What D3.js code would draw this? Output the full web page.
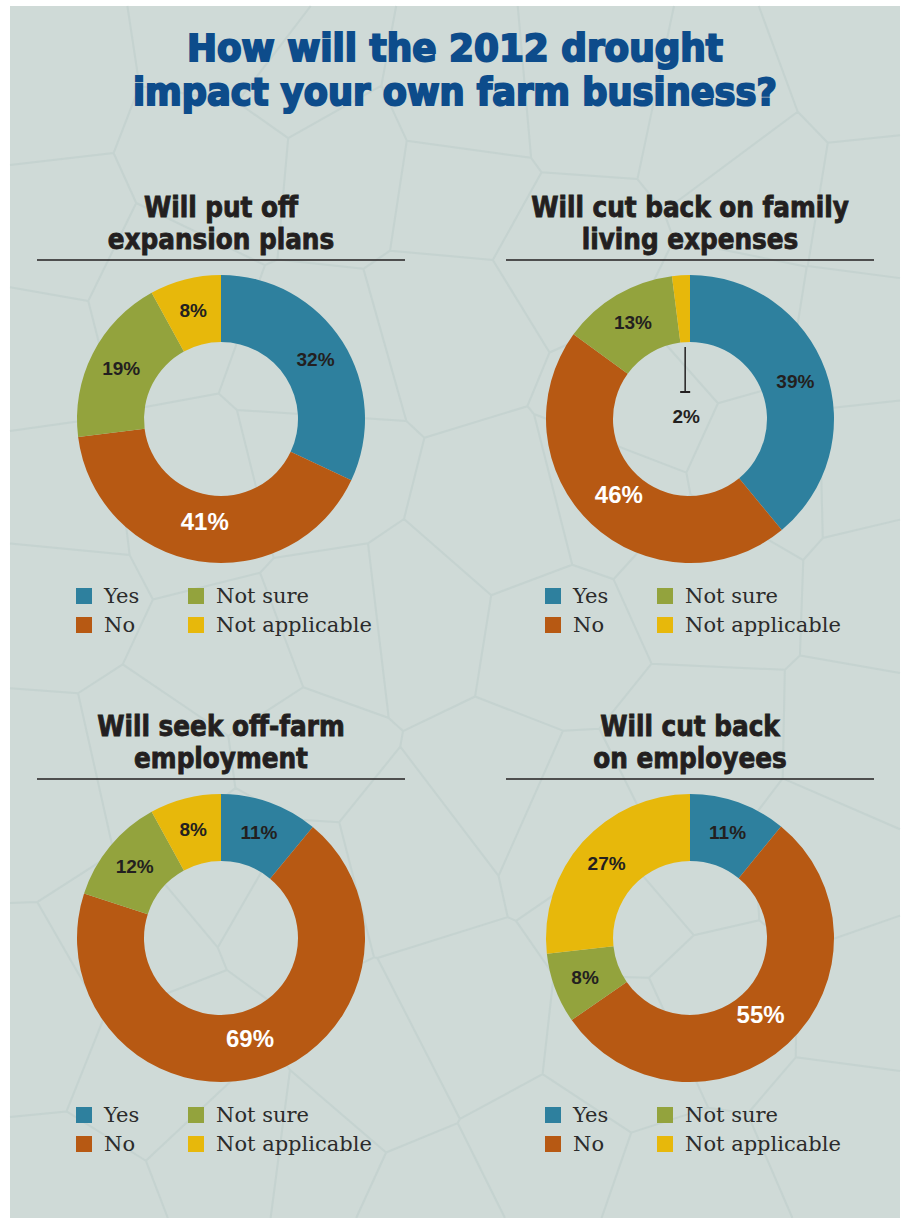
<!DOCTYPE html>
<html>
<head>
<meta charset="utf-8">
<script src="https://cdn.jsdelivr.net/npm/d3@7"></script>
<style>
  body { margin: 0; background: #fff; }
</style>
</head>
<body>
<div id="chart"></div>
<script>
/* DATA */
const categories = ["Yes", "No", "Not sure", "Not applicable"];
const titleLines = ["How will the 2012 drought", "impact your own farm business?"];
const panelTitles = [
  ["Will put off", "expansion plans"],
  ["Will cut back on family", "living expenses"],
  ["Will seek off-farm", "employment"],
  ["Will cut back", "on employees"]
];
const expansionValues = [32, 41, 19, 8];
const livingValues = [39, 46, 13, 2];
const offFarmValues = [11, 69, 12, 8];
const employeeValues = [11, 55, 8, 27];
const panelValues = [expansionValues, livingValues, offFarmValues, employeeValues];

/* CONSTANTS */
const W = 905, H = 1218;
const colors = ["#2e809e", "#b75913", "#93a33d", "#e7b80b"];
const bg = "#cfdad7";
const ink = "#231f20";
const rOuter = 144, rInner = 77, rLabel = 112, rLabelBig = 104;
const centersX = [221, 690];
const centersY = [419, 938];

const svg = d3.select("#chart").append("svg")
  .attr("width", W).attr("height", H);

svg.append("rect")
  .attr("x", 10).attr("y", 6)
  .attr("width", 890).attr("height", H - 6)
  .attr("fill", bg);

// faint cracked-earth texture (decoration only)
const hash = (a, b) => {
  const s = Math.sin(a * 12.9898 + b * 78.233) * 43758.5453;
  return s - Math.floor(s);
};
const seeds = [];
for (let i = 0; i < 7; i++) {
  for (let j = 0; j < 9; j++) {
    seeds.push([10 + (i + 0.1 + 0.8 * hash(i, j)) * 130, 6 + (j + 0.1 + 0.8 * hash(j + 3, i + 7)) * 138]);
  }
}
const vor = d3.Delaunay.from(seeds).voronoi([10, 6, 900, H]);
svg.append("path")
  .attr("d", vor.render())
  .attr("fill", "none")
  .attr("stroke", "#bccbc9")
  .attr("stroke-width", 2)
  .attr("stroke-linejoin", "round")
  .attr("opacity", 0.5);

// main title
svg.selectAll("text.title")
  .data(titleLines)
  .join("text")
  .attr("class", "title")
  .attr("x", 455)
  .attr("y", (d, i) => 61 + i * 44)
  .attr("text-anchor", "middle")
  .attr("font-family", "DejaVu Sans")
  .attr("font-weight", "bold")
  .attr("font-size", 37)
  .attr("fill", "#0d4c8b")
  .attr("stroke", "#0d4c8b")
  .attr("stroke-width", 2)
  .attr("textLength", (d, i) => i === 0 ? 536 : 644)
  .attr("lengthAdjust", "spacingAndGlyphs")
  .text(d => d);

const pie = d3.pie().sort(null).value(d => d);
const arc = d3.arc().innerRadius(rInner).outerRadius(rOuter);
const labelArc = d3.arc().innerRadius(rLabel).outerRadius(rLabel);
const labelArcBig = d3.arc().innerRadius(rLabelBig).outerRadius(rLabelBig);

panelValues.forEach((vals, p) => {
  const cx = centersX[p % 2], cy = centersY[Math.floor(p / 2)];
  const g = svg.append("g").attr("transform", `translate(${cx},${cy})`);

  // panel title
  g.selectAll("text.ptitle")
    .data(panelTitles[p])
    .join("text")
    .attr("class", "ptitle")
    .attr("x", 0)
    .attr("y", (d, i) => -212 + i * 32)
    .attr("dy", "0.36em")
    .attr("text-anchor", "middle")
    .attr("font-family", "DejaVu Sans Condensed, DejaVu Sans")
    .attr("font-weight", "bold")
    .attr("font-size", 27.5)
    .attr("fill", ink)
    .attr("stroke", ink)
    .attr("stroke-width", 0.8)
    .text(d => d);

  g.append("line")
    .attr("x1", -184).attr("x2", 184)
    .attr("y1", -159).attr("y2", -159)
    .attr("stroke", ink)
    .attr("stroke-width", 1.5);

  const arcs = pie(vals);

  g.selectAll("path")
    .data(arcs)
    .join("path")
    .attr("d", arc)
    .attr("fill", (d, i) => colors[i]);

  // labels
  arcs.forEach((d, i) => {
    const pct = d.data + "%";
    const big = i === 1;
    if (d.data < 5) {
      // tiny slice: label in the hole with a leader line
      const mid = (d.startAngle + d.endAngle) / 2;
      const lx = Math.sin(mid) * rInner;
      g.append("line")
        .attr("x1", lx).attr("x2", lx)
        .attr("y1", -rInner + 5).attr("y2", -27)
        .attr("stroke", ink).attr("stroke-width", 1.5);
      g.append("line")
        .attr("x1", lx - 5).attr("x2", lx + 5)
        .attr("y1", -27).attr("y2", -27)
        .attr("stroke", ink).attr("stroke-width", 2);
      g.append("text")
        .attr("x", lx + 1).attr("y", -3)
        .attr("dy", "0.36em")
        .attr("text-anchor", "middle")
        .attr("font-family", "Liberation Sans, Arial")
        .attr("font-weight", "bold")
        .attr("font-size", 19)
        .attr("fill", ink)
        .text(pct);
      return;
    }
    const [x, y] = (big ? labelArcBig : labelArc).centroid(d);
    g.append("text")
      .attr("x", x).attr("y", y)
      .attr("dy", "0.36em")
      .attr("text-anchor", "middle")
      .attr("font-family", "Liberation Sans, Arial")
      .attr("font-weight", "bold")
      .attr("font-size", big ? 24 : 19)
      .attr("fill", big ? "#ffffff" : ink)
      .text(pct);
  });

  // legend
  const leg = g.append("g").attr("transform", "translate(-145,177)");
  const item = leg.selectAll("g")
    .data(categories)
    .join("g")
    .attr("transform", (d, i) => `translate(${i < 2 ? 0 : 112},${(i % 2) * 29})`);
  item.append("rect")
    .attr("x", 0).attr("y", -8)
    .attr("width", 16).attr("height", 16)
    .attr("fill", (d, i) => colors[i]);
  item.append("text")
    .attr("x", 28).attr("y", 0)
    .attr("dy", "0.34em")
    .attr("font-family", "DejaVu Serif")
    .attr("font-size", 21)
    .attr("fill", "#2b2b2b")
    .text(d => d);
});
</script>
</body>
</html>
